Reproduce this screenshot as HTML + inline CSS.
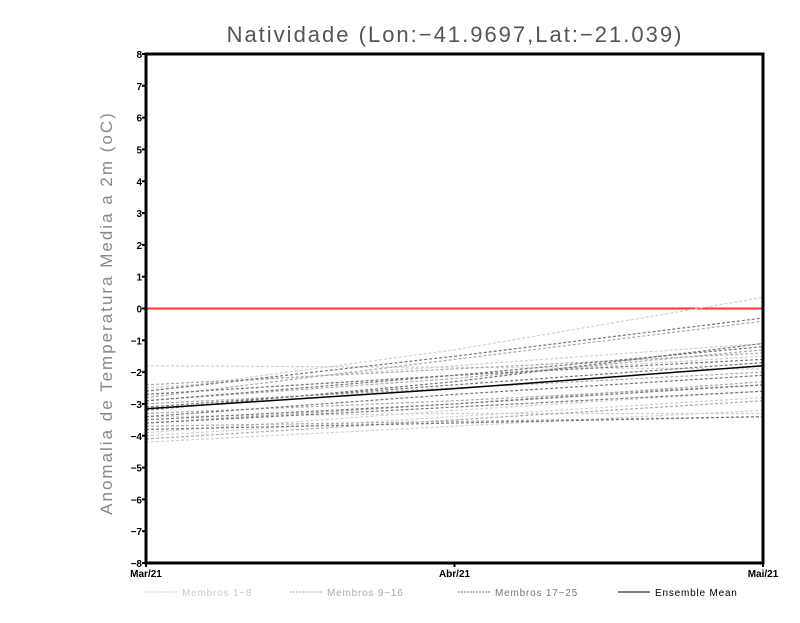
<!DOCTYPE html>
<html><head><meta charset="utf-8"><style>
body{margin:0;background:#fff;width:800px;height:618px;overflow:hidden;font-family:"Liberation Sans",sans-serif}
</style></head><body>
<svg id="chart" width="800" height="618" xmlns="http://www.w3.org/2000/svg">
<text x="455" y="42" text-anchor="middle" font-size="22" fill="#555" letter-spacing="2">Natividade (Lon:−41.9697,Lat:−21.039)</text>
<text transform="translate(112,313) rotate(-90)" text-anchor="middle" font-size="17" fill="#888" letter-spacing="2">Anomalia de Temperatura Media a 2m (oC)</text>
<g id="series"></g>
<rect x="146" y="54" width="617" height="509" fill="none" stroke="#000" stroke-width="3"/>
<g id="axes"></g>
<g font-size="10">
<line x1="145" y1="592" x2="177" y2="592" stroke="#ccc" stroke-dasharray="2,1"/><text x="182" y="596" fill="#ccc" letter-spacing="0.8">Membros 1−8</text>
<line x1="290" y1="592" x2="322" y2="592" stroke="#aaa" stroke-dasharray="2,1"/><text x="327" y="596" fill="#aaa" letter-spacing="0.8">Membros 9−16</text>
<line x1="458" y1="592" x2="490" y2="592" stroke="#777" stroke-dasharray="2,1"/><text x="495" y="596" fill="#777" letter-spacing="0.8">Membros 17−25</text>
<line x1="618" y1="592" x2="650" y2="592" stroke="#000"/><text x="655" y="596" fill="#000" letter-spacing="0.8">Ensemble Mean</text>
</g>
</svg>
<script>
const categories=["Mar/21","Abr/21","Mai/21"];
const yTicks=[-8,-7,-6,-5,-4,-3,-2,-1,0,1,2,3,4,5,6,7,8];
const members1_8=[[-1.8,-1.85,-1.9],[-2.6,-1.3,0.35],[-4.2,-3.7,-3.2],[-3.9,-3.2,-2.6],[-2.7,-2.1,-1.5],[-3.4,-3.3,-3.3],[-2.5,-1.8,-1.1],[-4.0,-3.4,-2.8]];
const members9_16=[[-2.8,-1.6,-0.4],[-3.6,-3.0,-2.3],[-2.9,-2.2,-1.3],[-3.3,-2.9,-2.4],[-4.1,-3.5,-2.9],[-2.4,-1.9,-1.4],[-3.7,-3.55,-3.4],[-3.0,-2.5,-2.0]];
const members17_25=[[-2.6,-1.5,-0.3],[-2.9,-2.1,-1.2],[-3.5,-3.0,-2.4],[-3.2,-2.3,-1.1],[-3.8,-3.6,-3.4],[-2.7,-2.1,-1.6],[-3.4,-2.7,-2.1],[-3.1,-2.4,-1.7],[-3.6,-3.1,-2.6]];
const ensembleMean=[-3.15,-2.52,-1.8];
const X0=146,X1=763,Y0=563,Y1=54;
const xs=i=>X0+(X1-X0)*i/(categories.length-1);
const ys=v=>Y0-(v+8)/16*(Y0-Y1);
const NS="http://www.w3.org/2000/svg";
const g=document.getElementById('series'),ax=document.getElementById('axes');
function mk(t,a,p){const e=document.createElementNS(NS,t);for(const k in a)e.setAttribute(k,a[k]);p.appendChild(e);return e;}
const zero=mk('line',{x1:X0,x2:X1,y1:ys(0),y2:ys(0),stroke:'#f33','stroke-width':2},g);


function draw(arr,color,name,dash){arr.forEach((s,i)=>{const p=mk('polyline',{points:s.map((v,j)=>xs(j)+','+ys(v)).join(' '),fill:'none',stroke:color,'stroke-width':1.2,'stroke-dasharray':dash},g);

});}
draw(members1_8,'#d0d0d0','member-1-8','3,2');
draw(members9_16,'#aaa','member-9-16','3,2');
draw(members17_25,'#777','member-17-25','3,2');
const m=mk('polyline',{points:ensembleMean.map((v,j)=>xs(j)+','+ys(v)).join(' '),fill:'none',stroke:'#000','stroke-width':1.5},g);


yTicks.forEach(v=>{mk('line',{x1:X0-4,x2:X0,y1:ys(v),y2:ys(v),stroke:'#000','stroke-width':2},ax);
const t=mk('text',{x:X0-4,y:ys(v)+4,'text-anchor':'end','font-size':10,'font-weight':'bold'},ax);t.textContent=(v<0?'−'+(-v):v);

});
categories.forEach((c,i)=>{mk('line',{x1:xs(i),x2:xs(i),y1:Y0,y2:Y0+4,stroke:'#000','stroke-width':2},ax);
const t=mk('text',{x:xs(i),y:Y0+14,'text-anchor':'middle','font-size':10,'font-weight':'bold'},ax);t.textContent=c;

});
</script>
</body></html>
